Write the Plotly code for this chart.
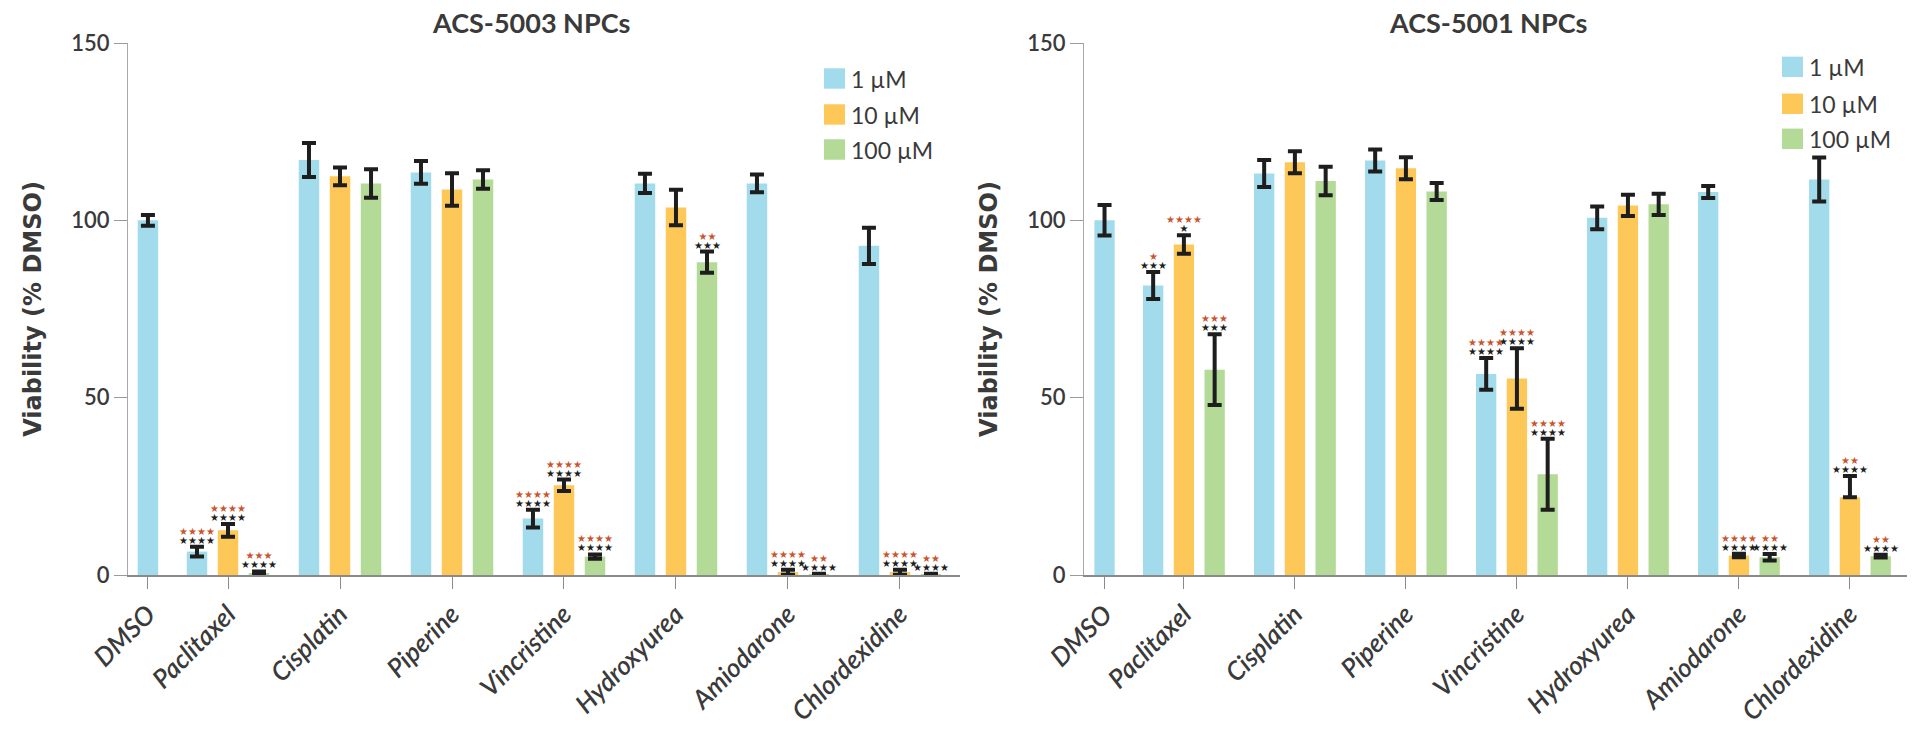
import plotly.graph_objects as go

# ---------------- data ----------------
categories = ["DMSO", "Paclitaxel", "Cisplatin", "Piperine", "Vincristine",
              "Hydroxyurea", "Amiodarone", "Chlordexidine"]
series_names = ["1 µM", "10 µM", "100 µM"]
series_colors = ["#A2DCEC", "#FDC858", "#B4DA97"]
panel_titles = ["ACS-5003 NPCs", "ACS-5001 NPCs"]
y_ticks = [0, 50, 100, 150]
y_title = "Viability (% DMSO)"

# ACS-5003 NPCs
a5003_1uM = [100.0, 6.6, 117.0, 113.5, 15.9, 110.4, 110.4, 92.8]
a5003_1uM_err = [1.5, 1.4, 4.8, 3.2, 2.5, 2.7, 2.5, 5.1]
a5003_10uM = [None, 12.6, 112.4, 108.7, 25.3, 103.6, 0.8, 0.8]
a5003_10uM_err = [None, 1.8, 2.5, 4.6, 1.6, 5.0, 0.7, 0.7]
a5003_100uM = [None, 0.5, 110.4, 111.5, 5.2, 88.2, 0.25, 0.25]
a5003_100uM_err = [None, 0.5, 4.0, 2.6, 0.6, 3.0, 0.1, 0.1]

a5003_1uM_red = ["", "****", "", "", "****", "", "", ""]
a5003_1uM_black = ["", "****", "", "", "****", "", "", ""]
a5003_10uM_red = ["", "****", "", "", "****", "", "****", "****"]
a5003_10uM_black = ["", "****", "", "", "****", "", "****", "****"]
a5003_100uM_red = ["", "***", "", "", "****", "**", "**", "**"]
a5003_100uM_black = ["", "****", "", "", "****", "***", "****", "****"]

# ACS-5001 NPCs
a5001_1uM = [100.0, 81.6, 113.2, 116.9, 56.7, 100.7, 108.0, 111.5]
a5001_1uM_err = [4.3, 3.8, 3.8, 3.1, 4.5, 3.2, 1.7, 6.2]
a5001_10uM = [None, 93.2, 116.4, 114.7, 55.4, 104.2, 5.5, 21.9]
a5001_10uM_err = [None, 2.6, 3.1, 3.1, 8.5, 3.0, 0.5, 6.0]
a5001_10uM_err_minus = [None, 2.6, 3.1, 3.1, 8.5, 3.0, 0.5, 0.0]
a5001_100uM = [None, 57.9, 111.1, 108.1, 28.4, 104.5, 5.0, 5.3]
a5001_100uM_err = [None, 10.0, 4.0, 2.4, 10.0, 3.0, 0.9, 0.4]

a5001_1uM_red = ["", "*", "", "", "****", "", "", ""]
a5001_1uM_black = ["", "***", "", "", "****", "", "", ""]
a5001_10uM_red = ["", "****", "", "", "****", "", "****", "**"]
a5001_10uM_black = ["", "*", "", "", "****", "", "****", "****"]
a5001_100uM_red = ["", "***", "", "", "****", "", "**", "**"]
a5001_100uM_black = ["", "***", "", "", "****", "", "****", "****"]

panels = [
    dict(values=[a5003_1uM, a5003_10uM, a5003_100uM],
         err=[a5003_1uM_err, a5003_10uM_err, a5003_100uM_err],
         err_minus=[a5003_1uM_err, a5003_10uM_err, a5003_100uM_err],
         red=[a5003_1uM_red, a5003_10uM_red, a5003_100uM_red],
         black=[a5003_1uM_black, a5003_10uM_black, a5003_100uM_black]),
    dict(values=[a5001_1uM, a5001_10uM, a5001_100uM],
         err=[a5001_1uM_err, a5001_10uM_err, a5001_100uM_err],
         err_minus=[a5001_1uM_err, a5001_10uM_err_minus, a5001_100uM_err],
         red=[a5001_1uM_red, a5001_10uM_red, a5001_100uM_red],
         black=[a5001_1uM_black, a5001_10uM_black, a5001_100uM_black]),
]

# ---------------- layout geometry ----------------
W, H = 1914, 733
ML, MR, MT, MB = 128, 7, 43, 143
PW = W - ML - MR
PH = H - MT - MB

def px_x(p):
    return (p - ML) / PW

def px_y(p):
    return (H - MB - p) / PH

# category positions on a numeric axis (DMSO group is narrower: single bar)
cat_pos = [0.285, 1, 2, 3, 4, 5, 6, 7]
offsets = [-0.277, 0.0, 0.277]
bar_w = 0.183
domains = [[0.0, px_x(960)], [px_x(1084), 1.0]]
x_ranges = [[0.107, 7.536], [0.10, 7.514]]
axis_names = [("x", "y"), ("x2", "y2")]

TXT = "#3a3a3a"
RED = "#C9552F"
BLK = "#1e1e1e"
STAR_PX = 10


def star_line(s, color):
    return ("<span style='font-size:%spx;color:%s'>%s</span>"
            % (STAR_PX, color, s.replace("*", "★")))


fig = go.Figure()
annotations = []

for pi, panel in enumerate(panels):
    xa, ya = axis_names[pi]
    for si in range(3):
        vals = panel["values"][si]
        xs, ys, eh, el = [], [], [], []
        for ci, v in enumerate(vals):
            if v is None:
                continue
            off = 0.0 if ci == 0 else offsets[si]
            xs.append(cat_pos[ci] + off)
            ys.append(v)
            eh.append(panel["err"][si][ci])
            el.append(panel["err_minus"][si][ci])
            top = v + panel["err"][si][ci]
            rtxt = panel["red"][si][ci]
            btxt = panel["black"][si][ci]
            lines = []
            if rtxt:
                lines.append(star_line(rtxt, RED))
            if btxt:
                lines.append(star_line(btxt, BLK))
            if lines:
                annotations.append(dict(
                    x=cat_pos[ci] + off, y=top, xref=xa, yref=ya,
                    text="<br>".join(lines), showarrow=False,
                    yanchor="bottom", yshift=0, borderpad=0,
                    font=dict(family="DejaVu Sans", size=7, color=BLK)))
        fig.add_trace(go.Bar(
            x=xs, y=ys, width=bar_w, name=series_names[si],
            marker=dict(color=series_colors[si], line=dict(width=0)),
            error_y=dict(type="data", symmetric=False, array=eh, arrayminus=el,
                         color=BLK, thickness=4, width=7),
            xaxis=xa, yaxis=ya, showlegend=False))

# panel titles
title_x = [px_x(531), px_x(1488)]
for pi in range(2):
    annotations.append(dict(
        x=title_x[pi], y=px_y(22), xref="paper", yref="paper",
        text="<b>" + panel_titles[pi] + "</b>", showarrow=False,
        xanchor="center", yanchor="middle",
        font=dict(family="Lato", size=27, color=TXT)))

# manual legends (large swatches)
legend_left = [824, 1782]
legend_tops = [[69, 106, 142], [57, 95, 131]]
sw = 22
shapes = []
for pi in range(2):
    for si in range(3):
        x0 = legend_left[pi]
        y0 = legend_tops[pi][si]
        shapes.append(dict(type="rect", xref="paper", yref="paper",
                           x0=px_x(x0), x1=px_x(x0 + sw - 1),
                           y0=px_y(y0), y1=px_y(y0 + sw - 1),
                           fillcolor=series_colors[si], line=dict(width=0)))
        annotations.append(dict(
            x=px_x(x0 + sw + 3), y=px_y(y0 + sw / 2), xref="paper", yref="paper",
            text=series_names[si], showarrow=False, xanchor="left",
            yanchor="middle",
            font=dict(family="Lato", size=23, color=TXT)))

layout = dict(
    width=W, height=H,
    margin=dict(l=ML, r=MR, t=MT, b=MB, pad=0),
    paper_bgcolor="white", plot_bgcolor="white",
    barmode="overlay",
    annotations=annotations, shapes=shapes,
    showlegend=False,
)

for pi in range(2):
    xa, ya = axis_names[pi]
    xkey = "xaxis" if pi == 0 else "xaxis2"
    ykey = "yaxis" if pi == 0 else "yaxis2"
    layout[xkey] = dict(
        domain=domains[pi], range=x_ranges[pi], anchor=ya,
        tickmode="array", tickvals=cat_pos, ticktext=categories,
        tickangle=-45, ticks="outside", ticklen=12, tickwidth=1,
        tickcolor="#8a8a8a", showline=True, linecolor="#8a8a8a", linewidth=1.5,
        showgrid=False, zeroline=False,
        tickfont=dict(family="Lato", size=26, style="italic", weight=600,
                      color=TXT))
    layout[ykey] = dict(
        domain=[0, 1], range=[0, 150], anchor=xa,
        tickmode="array", tickvals=y_ticks,
        ticks="outside", ticklen=13, tickwidth=1, tickcolor="#9a9a9a",
        showline=True, linecolor="#a8a8a8", linewidth=1,
        showgrid=False, zeroline=False,
        tickfont=dict(family="Lato", size=22, weight=600, color=TXT),
        title=dict(text=y_title, standoff=22,
                   font=dict(family="DejaVu Sans", size=24, weight="bold",
                             color=TXT)))

fig.update_layout(**layout)
fig.write_html("out.html",
               config={"displayModeBar": False},
               post_script="document.body.style.margin='0';"
                           "document.body.style.overflow='hidden';")
